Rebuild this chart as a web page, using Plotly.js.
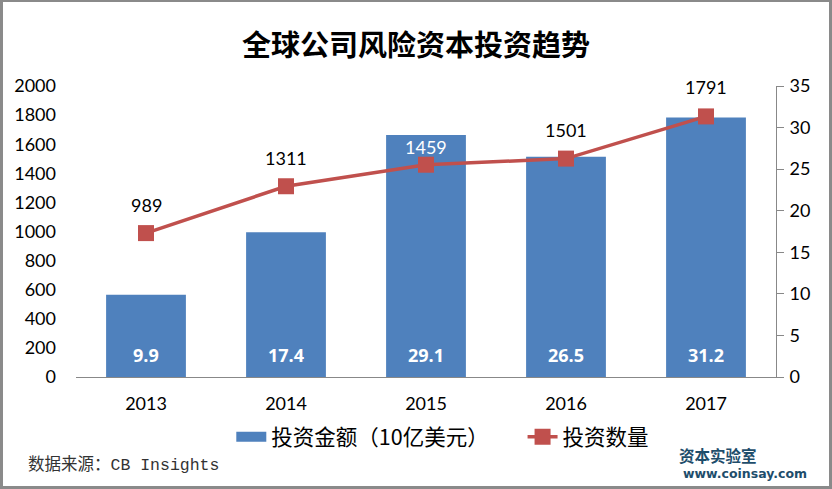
<!DOCTYPE html>
<html><head><meta charset="utf-8">
<script src="https://cdn.plot.ly/plotly-3.0.1.min.js"></script>
<style>
html,body{margin:0;padding:0;background:#fff;}
#wrap{position:relative;width:832px;height:489px;}
#chart{position:absolute;left:0;top:0;width:832px;height:489px;}
#frame{position:absolute;left:0;top:0;width:832px;height:489px;box-sizing:border-box;border:3px solid #8a8a8a;border-top-width:2px;pointer-events:none;}
</style></head>
<body><div id="wrap"><div id="chart"></div><div id="frame"></div></div>
<script>
var years = ['2013','2014','2015','2016','2017'];
var amount = [9.9, 17.4, 29.1, 26.5, 31.2];
var count = [989, 1311, 1459, 1501, 1791];
var amountName = '投资金额（10亿美元）';
var countName = '投资数量';

// label styling (not data)
var countLabelColors = ['#000','#000','#fff','#000','#000'];
var countLabelShift = [28, 28, 18, 29, 29];
var legendSpacer = '\u00a0\u00a0\u00a0\u00a0\u00a0\u00a0';

var numFont = 'Lato, "Noto Sans", sans-serif';
var cjk = '"Noto Sans CJK SC", sans-serif';

var bars = {
  type:'bar', x:years, y:amount, name:amountName, yaxis:'y', showlegend:false,
  marker:{color:'#4f81bd'}, hoverinfo:'none'
};
var line = {
  type:'scatter', mode:'lines+markers', x:years, y:count, name:countName, yaxis:'y2',
  line:{color:'#c0504d', width:3.5},
  marker:{symbol:'square', size:16, color:'#c0504d'},
  cliponaxis:false, hoverinfo:'none', legendrank:2
};
// legend-only swatch for the bar series (wide blue bar like the reference)
var legendBar = {
  type:'scatter', mode:'lines', x:[years[0]], y:[null], name:amountName + legendSpacer, yaxis:'y',
  line:{color:'#4f81bd', width:10}, hoverinfo:'none', legendrank:1
};

var annotations = [];
years.forEach(function(yr, i){
  // category axis: annotation x given as category index
  annotations.push({x:i, y:0, xref:'x', yref:'y', yanchor:'bottom', yshift:8, showarrow:false,
    text:amount[i].toFixed(1), font:{color:'#fff', size:18, family:'"Open Sans", sans-serif', weight:'bold'}});
  annotations.push({x:i, y:count[i], xref:'x', yref:'y2', yanchor:'middle', yshift:countLabelShift[i], showarrow:false,
    text:String(count[i]), font:{color:countLabelColors[i], size:18, family:numFont}});
});
annotations.push(
  {xref:'paper', yref:'paper', x:-0.0714, y:-0.302, xanchor:'left', yanchor:'middle', showarrow:false,
   text:'数据来源：CB Insights', font:{family:'"Liberation Mono", "Noto Sans CJK SC", monospace', size:16.5, color:'#333'}},
  {xref:'paper', yref:'paper', x:0.917, y:-0.268, xanchor:'center', yanchor:'middle', showarrow:false,
   text:'资本实验室', font:{family:cjk, size:15.5, color:'#1e4d6b', weight:'bold'}},
  {xref:'paper', yref:'paper', x:0.956, y:-0.33, xanchor:'center', yanchor:'middle', showarrow:false,
   text:'www.coinsay.com', font:{family:'"DejaVu Sans", sans-serif', size:12.5, color:'#1e4d6b', weight:'bold'}}
);

var layout = {
  width:832, height:489,
  margin:{l:76, r:56, t:86, b:112},
  paper_bgcolor:'#fff', plot_bgcolor:'#fff',
  showlegend:true,
  title:{text:'全球公司风险资本投资趋势', x:0.5, xanchor:'center', y:0.906, yanchor:'middle',
         font:{family:cjk, size:29, color:'#000', weight:'bold'}},
  bargap:0.43,
  xaxis:{type:'category', categoryorder:'array', categoryarray:years, range:[-0.5, years.length-0.5],
         showline:true, linecolor:'#888', linewidth:1, ticks:'', showgrid:false,
         tickfont:{family:numFont, size:18, color:'#000'}, ticklabelstandoff:10},
  yaxis:{side:'right', range:[0,35], dtick:5, showgrid:false, zeroline:false,
         showline:true, linecolor:'#888', linewidth:1, ticks:'outside', ticklen:7, tickcolor:'#888',
         tickfont:{family:numFont, size:18, color:'#000'}, ticklabelstandoff:2},
  yaxis2:{side:'left', overlaying:'y', range:[0,2000], dtick:200, showgrid:false, zeroline:false,
          showline:false, ticks:'', tickfont:{family:numFont, size:18, color:'#000'}, ticklabelstandoff:19},
  legend:{orientation:'h', x:0.524, xanchor:'center', y:-0.205, yanchor:'middle',
          font:{family:cjk, size:21.5, color:'#000'}, traceorder:'normal'},
  annotations:annotations
};
Plotly.newPlot('chart', [bars, line, legendBar], layout, {displayModeBar:false, staticPlot:true});
</script></body></html>
